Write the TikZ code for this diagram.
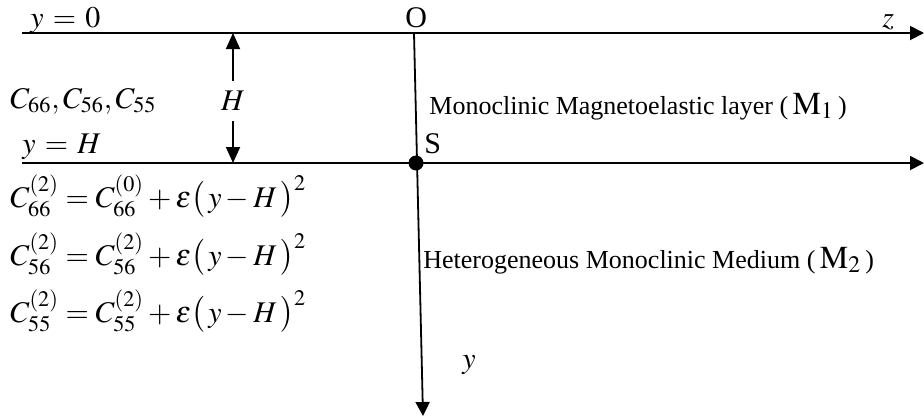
\documentclass[tikz,border=0pt]{standalone}
\usepackage{amsmath}
\usepackage{mathptmx}
\usepackage{fontspec}
\setmainfont{Liberation Serif}
\usetikzlibrary{arrows.meta, positioning}

\begin{document}
\begin{tikzpicture}[x=0.5pt, y=-0.5pt,
    axis/.style={line width=0.9pt, -{Triangle[length=7pt, width=7pt]}},
    dimarr/.style={line width=0.9pt, -{Triangle[length=8pt, width=7pt]}},
    lbl/.style={inner sep=0pt, anchor=base west, font=\fontsize{15}{17}\selectfont},
    txt/.style={inner sep=0pt, anchor=base west, font=\fontsize{13}{15}\selectfont},
    eqn/.style={inner sep=0pt, anchor=base west, font=\fontsize{15}{17}\selectfont}]
  \useasboundingbox (0,0) rectangle (924,419);
  % axes
  \coordinate (top) at (22,33);
  \coordinate (topend) at (924,33);
  \coordinate (mid) at (22,163);
  \coordinate (midend) at (924,163);
  \coordinate (origin) at (414,33);
  \coordinate (yend) at (423,416);
  \draw[axis] (top) -- (topend);
  \draw[axis] (mid) -- (midend);
  \draw[axis] (origin) -- (yend);
  \node[circle, fill, inner sep=0pt, minimum size=7.5pt] (S) at (416,163) {};
  % thickness H
  \coordinate (htop) at (233,33);
  \coordinate (hbot) at (233,163);
  \node[lbl, anchor=center, inner ysep=5pt] (H) at (233,101) {$H$};
  \draw[dimarr] (H) -- (htop);
  \draw[dimarr] (H) -- (hbot);
  % labels
  \node[lbl] (y0) at (30,27) {$y\mkern1.5mu=\mkern1.5mu0$};
  \node[lbl] (yH) at (22,153) {$y\mkern1.5mu=\mkern1.5muH$};
  \node[lbl] (O) at (405,27) {O};
  \node[lbl] (zlab) at (882,27) {$z$};
  \node[lbl] (Slab) at (424,153) {S};
  \node[lbl] (ylab) at (462,368) {$y$};
  \node[lbl] (consts) at (10,108) {$C_{66},C_{56},C_{55}$};
  \node[txt] (layer) at (429,114) {Monoclinic Magnetoelastic layer (\,{\fontsize{16}{17}\selectfont$\mathrm{M}_1$}\,)};
  \node[txt] (medium) at (423,268) {Heterogeneous Monoclinic Medium (\,{\fontsize{16}{17}\selectfont$\mathrm{M}_2$}\,)};
  % graded constants
  \node[eqn] (eqA) at (10,207) {$C_{66}^{(2)}=C_{66}^{(0)}+\varepsilon\bigl(\,y-H\,\bigr)^2$};
  \node[eqn] (eqB) at (10,265) {$C_{56}^{(2)}=C_{56}^{(2)}+\varepsilon\bigl(\,y-H\,\bigr)^2$};
  \node[eqn] (eqC) at (10,322) {$C_{55}^{(2)}=C_{55}^{(2)}+\varepsilon\bigl(\,y-H\,\bigr)^2$};
\end{tikzpicture}
\end{document}
